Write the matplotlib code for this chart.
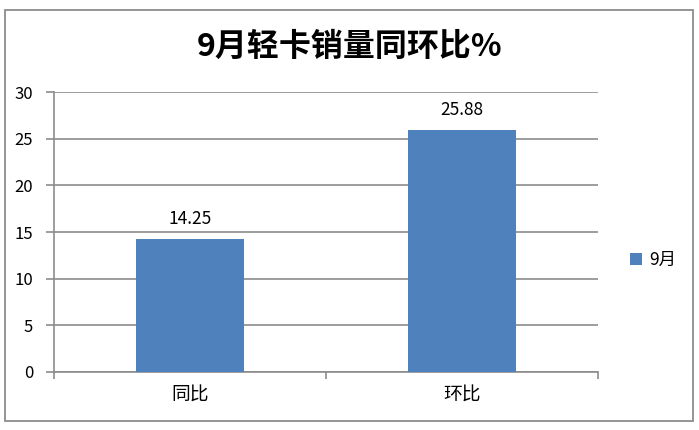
import matplotlib.pyplot as plt
from matplotlib.patches import Rectangle

plt.rcParams['font.family'] = ['Noto Sans CJK SC', 'DejaVu Sans']

categories = ['同比', '环比']
values = [14.25, 25.88]
series_name = '9月'
title = '9月轻卡销量同环比%'

bar_color = '#4f81bd'
grid_color = '#8c8c8c'

fig = plt.figure(figsize=(6.99, 4.30), dpi=100)
ax = fig.add_axes([0.0773, 0.1349, 0.7783, 0.6511])

# outer border like the excel chart frame
fig.patches.append(Rectangle((0.0072, 0.021), 0.984, 0.956, transform=fig.transFigure,
                             fill=False, edgecolor=grid_color, linewidth=1.3))

x = range(len(categories))
bars = ax.bar(x, values, width=0.4, color=bar_color, label=series_name, zorder=3)
for b, v in zip(bars, values):
    ax.text(b.get_x() + b.get_width() / 2, v + 1.2, f'{v:.2f}', ha='center', va='bottom',
            fontsize=12.5)

ax.set_xlim(-0.5, 1.5)
ax.set_ylim(0, 30)
ax.set_yticks(range(0, 31, 5))
ax.set_xticks([0, 1])
ax.set_xticklabels(categories, fontsize=13.5)
ax.set_xticks([-0.5, 0.5, 1.5], minor=True)
ax.tick_params(axis='x', which='major', length=0, pad=9)
ax.tick_params(axis='x', which='minor', length=5, color=grid_color, width=1.2)
ax.tick_params(axis='y', length=6, color=grid_color, width=1.2, labelsize=12, pad=9)

ax.yaxis.grid(True, color=grid_color, linewidth=1.2, zorder=0)
for s in ['top', 'right']:
    ax.spines[s].set_visible(False)
for s in ['left', 'bottom']:
    ax.spines[s].set_color(grid_color)
    ax.spines[s].set_linewidth(1.2)

fig.text(0.5, 0.89, title, ha='center', va='center', fontsize=23, fontweight='bold')

ax.legend(loc='center left', bbox_to_anchor=(1.03, 0.4), frameon=False, fontsize=12.5,
          handlelength=0.7, handleheight=0.7, handletextpad=0.4)

fig.savefig('out.png', dpi=100)
